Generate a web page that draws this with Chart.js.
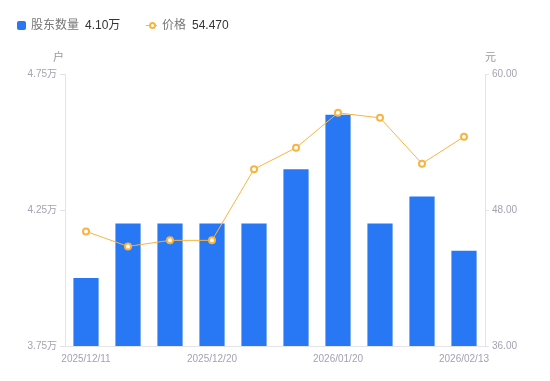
<!DOCTYPE html>
<html>
<head>
<meta charset="utf-8">
<script src="https://cdn.jsdelivr.net/npm/chart.js@4/dist/chart.umd.min.js"></script>
<style>
  body { margin: 0; background: #fff; font-family: 'Liberation Sans', 'Noto Sans CJK SC', sans-serif; }
  #wrap { position: relative; width: 550px; height: 381px; }
  #legend { position: absolute; left: 0; top: 0; width: 550px; height: 40px; font-size: 12px; }
  .item { position: absolute; top: 17px; line-height: 16px; white-space: nowrap; }
  .lab { color: #777; }
  .val { color: #333; margin-left: 6px; }
  .sq { position: absolute; left: -14px; top: 4px; width: 9px; height: 9px; border-radius: 2px; background: #2878f5; }
  .ln { position: absolute; left: -16px; top: 7.5px; width: 11px; height: 1px; background: #f9b440; }
  .dot { position: absolute; left: -13.5px; top: 4.5px; width: 3px; height: 3px; border: 2px solid #f9b440; border-radius: 50%; background: #fff; }
</style>
</head>
<body>
<div id="wrap">
  <canvas id="chart" width="550" height="381"></canvas>
  <div id="legend">
    <div class="item" style="left:31px"><span class="sq"></span><span class="lab">股东数量</span><span class="val">4.10万</span></div>
    <div class="item" style="left:162px"><span class="ln"></span><span class="dot"></span><span class="lab">价格</span><span class="val">54.470</span></div>
  </div>
</div>
<script>
const dates = ['2025/12/11', '2025/12/15', '2025/12/19', '2025/12/20', '2025/12/31',
               '2026/01/09', '2026/01/20', '2026/01/30', '2026/02/10', '2026/02/13'];
const holders = [4.00, 4.20, 4.20, 4.20, 4.20, 4.40, 4.60, 4.20, 4.30, 4.10]; // 万户
const prices = [46.11, 44.79, 45.32, 45.32, 51.60, 53.49, 56.57, 56.13, 52.09, 54.47]; // 元
const shownDates = [0, 3, 6, 9];

const axisColor = '#e3e3ea';
const tickColor = '#a3a3b3';
const tickFont = { family: "'Liberation Sans', 'Noto Sans CJK SC', sans-serif", size: 10 };

const unitTitles = {
  id: 'unitTitles',
  afterDraw(chart) {
    const { ctx, chartArea } = chart;
    ctx.save();
    ctx.fillStyle = '#999';
    ctx.font = "11px 'Noto Sans CJK SC', sans-serif";
    ctx.textBaseline = 'middle';
    ctx.textAlign = 'right';
    ctx.fillText('户', chartArea.left - 1, chartArea.top - 17);
    ctx.textAlign = 'left';
    ctx.fillText('元', chartArea.right, chartArea.top - 17);
    ctx.restore();
  }
};

new Chart(document.getElementById('chart'), {
  type: 'bar',
  data: {
    labels: dates,
    datasets: [
      {
        type: 'line',
        label: '价格',
        data: prices,
        yAxisID: 'y1',
        borderColor: '#f9b440',
        borderWidth: 1,
        pointRadius: 3,
        pointBorderWidth: 2,
        pointBackgroundColor: '#fff',
        pointBorderColor: '#f9b440',
        tension: 0,
        order: 0
      },
      {
        label: '股东数量',
        data: holders,
        yAxisID: 'y',
        backgroundColor: '#2878f5',
        barPercentage: 0.6,
        categoryPercentage: 1,
        order: 1
      }
    ]
  },
  options: {
    responsive: false,
    animation: false,
    layout: { padding: { top: 74, left: 0, right: 0, bottom: 0 } },
    plugins: { legend: { display: false }, tooltip: { enabled: false } },
    scales: {
      x: {
        grid: { display: false, drawTicks: false },
        border: { color: axisColor },
        ticks: {
          autoSkip: false, maxRotation: 0, padding: 7, color: tickColor, font: tickFont,
          callback: (v, i) => shownDates.includes(i) ? dates[i] : ''
        },
        afterFit: s => { s.height = 35; }
      },
      y: {
        position: 'left',
        min: 3.75, max: 4.75,
        grid: { drawOnChartArea: false, tickLength: 5, color: axisColor },
        border: { color: axisColor },
        ticks: { stepSize: 0.5, padding: 3, color: tickColor, font: tickFont,
                 callback: v => v.toFixed(2) + '万' },
        afterFit: s => { s.width = 65; }
      },
      y1: {
        position: 'right',
        min: 36, max: 60,
        grid: { drawOnChartArea: false, tickLength: 4, color: axisColor },
        border: { color: axisColor },
        ticks: { stepSize: 12, padding: 3, color: tickColor, font: tickFont,
                 callback: v => v.toFixed(2) },
        afterFit: s => { s.width = 65; }
      }
    }
  },
  plugins: [unitTitles]
});
</script>
</body>
</html>
